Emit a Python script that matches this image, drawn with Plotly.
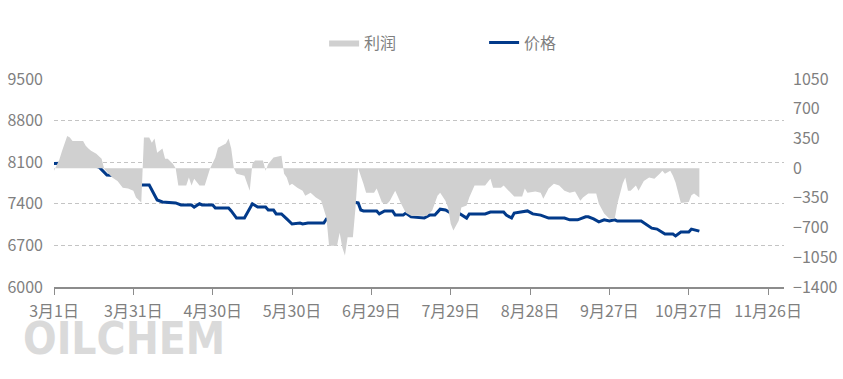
import plotly.graph_objects as go

# ---- data ----
price_dates = [
    "2023-03-01", "2023-03-07", "2023-03-11", "2023-03-14", "2023-03-16", "2023-03-18",
    "2023-03-20", "2023-03-21", "2023-03-25", "2023-03-27", "2023-03-28", "2023-03-31",
    "2023-04-01", "2023-04-06", "2023-04-08", "2023-04-09", "2023-04-11", "2023-04-16",
    "2023-04-18", "2023-04-22", "2023-04-23", "2023-04-25", "2023-04-26", "2023-04-30",
    "2023-05-01", "2023-05-06", "2023-05-07", "2023-05-09", "2023-05-12", "2023-05-15",
    "2023-05-17", "2023-05-20", "2023-05-21", "2023-05-23", "2023-05-24", "2023-05-26",
    "2023-05-28", "2023-05-30", "2023-06-02", "2023-06-03", "2023-06-05", "2023-06-11",
    "2023-06-12", "2023-06-15", "2023-06-16", "2023-06-18", "2023-06-20", "2023-06-22",
    "2023-06-24", "2023-06-25", "2023-06-26", "2023-07-01", "2023-07-02", "2023-07-04",
    "2023-07-07", "2023-07-08", "2023-07-11", "2023-07-12", "2023-07-14", "2023-07-19",
    "2023-07-21", "2023-07-23", "2023-07-25", "2023-07-27", "2023-07-29", "2023-07-30",
    "2023-08-01", "2023-08-04", "2023-08-05", "2023-08-11", "2023-08-13", "2023-08-18",
    "2023-08-19", "2023-08-21", "2023-08-22", "2023-08-25", "2023-08-27", "2023-08-29",
    "2023-09-01", "2023-09-04", "2023-09-10", "2023-09-12", "2023-09-15", "2023-09-18",
    "2023-09-19", "2023-09-21", "2023-09-23", "2023-09-25", "2023-09-27", "2023-09-29",
    "2023-09-30", "2023-10-09", "2023-10-11", "2023-10-13", "2023-10-15", "2023-10-17",
    "2023-10-18", "2023-10-21", "2023-10-22", "2023-10-24", "2023-10-27", "2023-10-28",
    "2023-10-29", "2023-10-31",
]
price_values = [
    8080, 8080, 8090, 8100, 8040, 8020,
    7935, 7885, 7870, 7800, 7750, 7750,
    7715, 7715, 7550, 7465, 7430, 7415,
    7380, 7380, 7345, 7400, 7380, 7380,
    7330, 7330, 7280, 7160, 7160, 7400,
    7345, 7345, 7295, 7295, 7230, 7230,
    7145, 7060, 7075, 7060, 7075, 7075,
    7145, 7145, 7245, 7310, 7400, 7430,
    7415, 7295, 7280, 7280, 7230, 7280,
    7280, 7210, 7210, 7245, 7180, 7160,
    7210, 7210, 7310, 7295, 7245, 7310,
    7245, 7160, 7230, 7230, 7260, 7260,
    7210, 7160, 7245, 7260, 7280, 7230,
    7210, 7160, 7160, 7130, 7130, 7180,
    7180, 7145, 7095, 7130, 7110, 7130,
    7110, 7110, 7045, 6990, 6975, 6925,
    6890, 6890, 6860, 6925, 6925, 6975,
    6960, 6940,
]

profit_dates = [
    "2023-03-01", "2023-03-03", "2023-03-04", "2023-03-06", "2023-03-07", "2023-03-08",
    "2023-03-12", "2023-03-13", "2023-03-14", "2023-03-15", "2023-03-17", "2023-03-19",
    "2023-03-20", "2023-03-23", "2023-03-25", "2023-03-27", "2023-03-29", "2023-03-31",
    "2023-04-01", "2023-04-03", "2023-04-04", "2023-04-06", "2023-04-07", "2023-04-08",
    "2023-04-09", "2023-04-11", "2023-04-12", "2023-04-13", "2023-04-15", "2023-04-16",
    "2023-04-17", "2023-04-20", "2023-04-21", "2023-04-22", "2023-04-23", "2023-04-25",
    "2023-04-27", "2023-04-29", "2023-05-01", "2023-05-02", "2023-05-05", "2023-05-06",
    "2023-05-07", "2023-05-08", "2023-05-09", "2023-05-12", "2023-05-14", "2023-05-15",
    "2023-05-16", "2023-05-19", "2023-05-20", "2023-05-21", "2023-05-23", "2023-05-26",
    "2023-05-27", "2023-05-28", "2023-05-29", "2023-05-30", "2023-06-01", "2023-06-03",
    "2023-06-04", "2023-06-06", "2023-06-08", "2023-06-10", "2023-06-12", "2023-06-13",
    "2023-06-16", "2023-06-17", "2023-06-18", "2023-06-19", "2023-06-20", "2023-06-22",
    "2023-06-23", "2023-06-24", "2023-06-26", "2023-06-27", "2023-06-30", "2023-07-01",
    "2023-07-03", "2023-07-05", "2023-07-06", "2023-07-08", "2023-07-10", "2023-07-12",
    "2023-07-14", "2023-07-20", "2023-07-22", "2023-07-23", "2023-07-24", "2023-07-25",
    "2023-07-27", "2023-07-28", "2023-07-29", "2023-07-30", "2023-08-01", "2023-08-02",
    "2023-08-04", "2023-08-05", "2023-08-07", "2023-08-11", "2023-08-13", "2023-08-14",
    "2023-08-17", "2023-08-18", "2023-08-20", "2023-08-22", "2023-08-25", "2023-08-26",
    "2023-08-27", "2023-08-30", "2023-09-01", "2023-09-02", "2023-09-04", "2023-09-06",
    "2023-09-08", "2023-09-10", "2023-09-12", "2023-09-14", "2023-09-16", "2023-09-17",
    "2023-09-19", "2023-09-22", "2023-09-23", "2023-09-25", "2023-09-27", "2023-09-29",
    "2023-09-30", "2023-10-02", "2023-10-03", "2023-10-04", "2023-10-05", "2023-10-07",
    "2023-10-08", "2023-10-10", "2023-10-12", "2023-10-14", "2023-10-16", "2023-10-17",
    "2023-10-18", "2023-10-20", "2023-10-21", "2023-10-22", "2023-10-24", "2023-10-27",
    "2023-10-28", "2023-10-29", "2023-10-31",
]
profit_values = [
    -30, 100, 200, 380, 360, 320,
    320, 265, 230, 205, 170, 110,
    -10, -110, -150, -230, -240, -265,
    -345, -405, 360, 360, 300, 350,
    180, 230, 110, 110, 50, 0,
    -205, -205, -110, -205, -125, -205,
    -205, -5, 125, 240, 290, 350,
    230, 0, -65, -90, -265, 50,
    90, 90, -30, 50, 125, 145,
    -65, -110, -205, -185, -230, -265,
    -325, -290, -345, -385, -585, -915,
    -915, -760, -935, -1030, -815, -815,
    -465, 0, -185, -290, -290, -240,
    -405, -420, -385, -265, -405, -525,
    -560, -560, -500, -405, -325, -290,
    -385, -465, -655, -735, -620, -465,
    -440, -345, -205, -205, -125, -230,
    -230, -205, -265, -335, -335, -240,
    -290, -275, -290, -360, -240, -185,
    -205, -265, -290, -275, -385, -345,
    -300, -300, -420, -535, -595, -595,
    -420, -185, -110, -265, -265, -205,
    -265, -150, -110, -125, -65, -30,
    -65, -30, -90, -170, -410, -400,
    -320, -300, -345,
]

x_tick_dates = ["2023-03-01", "2023-03-31", "2023-04-30", "2023-05-30", "2023-06-29",
                "2023-07-29", "2023-08-28", "2023-09-27", "2023-10-27", "2023-11-26"]
x_tick_labels = ["3月1日", "3月31日", "4月30日", "5月30日", "6月29日",
                 "7月29日", "8月28日", "9月27日", "10月27日", "11月26日"]

series_names = ["利润", "价格"]

FONT = "Noto Sans CJK SC, Noto Sans, sans-serif"
GRAY = "#7f7f7f"

fig = go.Figure()
fig.add_trace(go.Scatter(
    x=profit_dates, y=profit_values, name=series_names[0], yaxis="y2",
    mode="lines", line=dict(width=0, color="#d0d0d0"),
    fill="tozeroy", fillcolor="#d0d0d0", hoverinfo="skip",
))
fig.add_trace(go.Scatter(
    x=price_dates, y=price_values, name=series_names[1], yaxis="y",
    mode="lines", line=dict(width=3, color="#023a8a"),
))

fig.update_layout(
    width=843, height=379,
    margin=dict(l=54, r=59, t=79, b=92),
    paper_bgcolor="white", plot_bgcolor="white",
    font=dict(family=FONT, size=16, color=GRAY),
    showlegend=True,
    legend=dict(orientation="h", x=0.37, xanchor="left", y=1.175, yanchor="middle",
                entrywidth=115, entrywidthmode="pixels",
                font=dict(size=16, color=GRAY), bgcolor="rgba(0,0,0,0)"),
    xaxis=dict(
        type="date", range=["2023-03-01", "2023-12-02"], automargin=False,
        tickmode="array", tickvals=x_tick_dates, ticktext=x_tick_labels,
        showgrid=False, showline=True, linecolor="#8c8c8c", linewidth=1.5,
        ticks="outside", ticklen=6, tickcolor="#8c8c8c", tickwidth=1,
        ticklabelstandoff=3,
        tickfont=dict(size=16, color=GRAY), zeroline=False,
    ),
    yaxis=dict(
        range=[6000, 9500], tickmode="linear", tick0=6000, dtick=700, automargin=False,
        showgrid=True, gridcolor="#c4c4c4", gridwidth=1, griddash="4px,3px",
        zeroline=False, showline=False, ticks="", ticklabelstandoff=10,
        tickfont=dict(size=16, color=GRAY),
    ),
    yaxis2=dict(
        range=[-1400, 1050], tickmode="linear", tick0=-1400, dtick=350, automargin=False,
        overlaying="y", side="right", showgrid=False, zeroline=False,
        showline=False, ticks="", ticklabelstandoff=8,
        tickfont=dict(size=16, color=GRAY),
    ),
    annotations=[dict(
        text="<b>OILCHEM</b>", xref="paper", yref="paper",
        x=-0.045, xanchor="left", y=-0.115, yanchor="top", showarrow=False,
        font=dict(family="DejaVu Sans Condensed, Liberation Sans Narrow, sans-serif",
                  size=44, color="#dadada"),
    )],
)

fig.write_html("out.html")
